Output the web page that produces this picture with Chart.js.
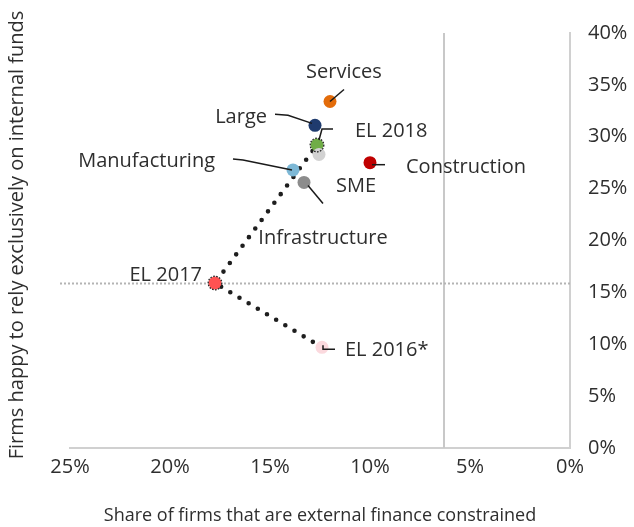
<!DOCTYPE html>
<html>
<head>
<meta charset="utf-8">
<script src="https://cdn.jsdelivr.net/npm/chart.js@4"></script>
<style>
  html, body { margin: 0; padding: 0; background: #fff; }
  .chart-wrap { position: relative; width: 634px; height: 527px; }
</style>
</head>
<body>
<div class="chart-wrap"><canvas id="chart"></canvas></div>
<script>
// Data
const names        = ['EL 2016*', 'EL 2017', 'EL 2018', 'Services', 'Large', 'Manufacturing', 'SME', 'Construction', 'Infrastructure'];
const constrained  = [12.4, 17.75, 12.65, 12.0, 12.75, 13.85, 13.3, 10.0, 12.55];   // x, %
const internalOnly = [9.7, 15.9, 29.2, 33.4, 31.1, 26.8, 25.6, 27.5, 28.3];       // y, %
const trendIdx     = [0, 1, 2];   // EL 2016* -> EL 2017 -> EL 2018
const refX = [6.3];               // vertical reference line
const refY = [15.9];              // horizontal reference line
const xTicks = [25, 20, 15, 10, 5, 0];
const yTicks = [0, 5, 10, 15, 20, 25, 30, 35, 40];

const colors = ['#fbd9de', '#ff5252', '#70ad47', '#e36c0a', '#1f3b6e', '#7db8d6', '#8c8c8c', '#c00000', '#d2d2d2'];
const dottedRing = [false, true, true, false, false, false, false, false, false];

// label placement: text offset from point, alignment, leader polyline (offsets from point)
const labelLayout = [
  { dx: 23,  dy: 3,   align: 'left',   lead: [[1,-2],[1,2],[13,2]] },
  { dx: -13, dy: -8,  align: 'right',  lead: null },
  { dx: 38,  dy: -14, align: 'left',   lead: [[16,-16],[5,-16],[2,-5]] },
  { dx: 14,  dy: -29, align: 'center', lead: [[0,0],[14,-12]] },
  { dx: -48, dy: -8,  align: 'right',  lead: [[-40,-11],[-27,-10],[-3,-2]] },
  { dx: -78, dy: -9,  align: 'right',  lead: [[-60,-11],[-50,-10],[-1,0]] },
  { dx: 32,  dy: 4,   align: 'left',   lead: [[4,3],[19,21]] },
  { dx: 36,  dy: 5,   align: 'left',   lead: [[2,2],[15,2]] },
  { dx: 4,   dy: 84,  align: 'center', lead: null }
];

const FONT = "'Open Sans', sans-serif";
const TEXT = '#2e2e2e';
Chart.defaults.font.family = FONT;
Chart.defaults.color = TEXT;

const points = names.map((n, i) => ({ x: constrained[i], y: internalOnly[i] }));
const trend  = trendIdx.map(i => ({ x: constrained[i], y: internalOnly[i] }));

// reference lines behind everything
const refLines = {
  id: 'refLines',
  beforeDatasetsDraw(chart) {
    const { ctx, chartArea: a, scales: { x, y } } = chart;
    ctx.save();
    ctx.strokeStyle = '#c8c8c8';
    ctx.lineWidth = 2;
    refX.forEach(v => {
      const px = Math.round(x.getPixelForValue(v));
      ctx.beginPath(); ctx.moveTo(px, a.top); ctx.lineTo(px, a.bottom); ctx.stroke();
    });
    ctx.strokeStyle = '#b4b4b4';
    ctx.setLineDash([2, 2]);
    refY.forEach(v => {
      const py = Math.round(y.getPixelForValue(v)) + 0.5;
      ctx.beginPath(); ctx.moveTo(a.left - 10, py); ctx.lineTo(a.right, py); ctx.stroke();
    });
    ctx.restore();
  }
};

// point labels, leader lines, dotted rings, left axis title
const annotate = {
  id: 'annotate',
  afterDatasetsDraw(chart) {
    const { ctx } = chart;
    const meta = chart.getDatasetMeta(0);
    ctx.save();
    meta.data.forEach((pt, i) => {
      const { x, y } = pt.getProps(['x', 'y'], true);
      if (dottedRing[i]) {
        ctx.setLineDash([1.6, 1.4]);
        ctx.strokeStyle = '#222';
        ctx.lineWidth = 1.3;
        ctx.beginPath(); ctx.arc(x, y, 6.8, 0, Math.PI * 2); ctx.stroke();
        ctx.setLineDash([]);
      }
      const L = labelLayout[i];
      if (L.lead) {
        ctx.strokeStyle = '#1a1a1a';
        ctx.lineWidth = 1.5;
        ctx.beginPath();
        L.lead.forEach(([ox, oy], k) => k ? ctx.lineTo(x + ox, y + oy) : ctx.moveTo(x + ox, y + oy));
        ctx.stroke();
      }
      ctx.fillStyle = TEXT;
      ctx.font = `20px ${FONT}`;
      ctx.textAlign = L.align;
      ctx.textBaseline = 'middle';
      ctx.fillText(names[i], x + L.dx, y + L.dy);
    });
    // y axis title on the left
    ctx.translate(17, 235);
    ctx.rotate(-Math.PI / 2);
    ctx.textAlign = 'center';
    ctx.textBaseline = 'middle';
    ctx.font = `20px ${FONT}`;
    ctx.fillStyle = TEXT;
    ctx.fillText('Firms happy to rely exclusively on internal funds', 0, 0);
    ctx.restore();
  }
};

new Chart(document.getElementById('chart'), {
  type: 'scatter',
  data: {
    datasets: [
      {
        data: points,
        backgroundColor: colors,
        borderColor: colors,
        borderWidth: 0,
        pointRadius: 6.5,
        pointHoverRadius: 6.5,
        order: 0
      },
      {
        data: trend,
        showLine: true,
        borderColor: '#1e1e1e',
        borderWidth: 4.6,
        borderDash: [0, 10.7],
        borderCapStyle: 'round',
        pointRadius: 0,
        order: 1
      }
    ]
  },
  options: {
    responsive: true,
    maintainAspectRatio: false,
    animation: false,
    layout: { padding: { left: 70, top: 33, right: 0, bottom: 0 } },
    plugins: { legend: { display: false }, tooltip: { enabled: false } },
    scales: {
      x: {
        type: 'linear',
        reverse: true,
        min: 0, max: 25,
        afterBuildTicks: s => { s.ticks = xTicks.map(v => ({ value: v })); },
        afterFit: s => { s.height = 79; },
        grid: { display: false, drawTicks: false },
        border: { display: true, color: '#d0d0d0', width: 2 },
        ticks: { padding: 7, font: { size: 20 }, color: TEXT, callback: v => v + '%' },
        title: {
          display: true,
          text: 'Share of firms that are external finance constrained',
          font: { size: 18 },
          color: TEXT,
          padding: { top: 0, bottom: 0 }
        }
      },
      y: {
        type: 'linear',
        position: 'right',
        min: 0, max: 40,
        afterBuildTicks: s => { s.ticks = yTicks.map(v => ({ value: v })); },
        afterFit: s => { s.width = 64; },
        grid: { display: false, drawTicks: false },
        border: { display: true, color: '#d0d0d0', width: 2 },
        ticks: { padding: 18, font: { size: 20 }, color: TEXT, callback: v => v + '%' }
      }
    }
  },
  plugins: [refLines, annotate]
});
</script>
</body>
</html>
